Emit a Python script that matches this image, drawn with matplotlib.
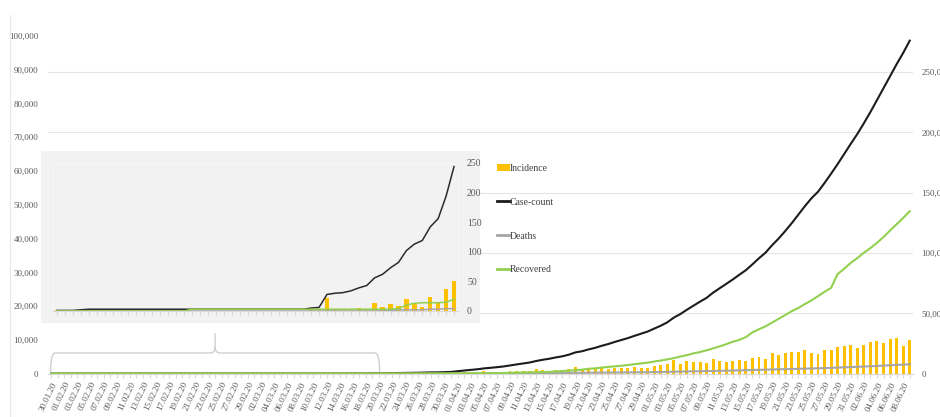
"""
Case-count, incidence, deaths and recovered 30.01.20 - 09.06.20, with an inset zoom on the first 51 days
"""
import numpy as np
import pandas as pd
import matplotlib
matplotlib.use("Agg")
import matplotlib.pyplot as plt
import matplotlib.transforms as mtransforms
from matplotlib.lines import Line2D
from matplotlib.patches import Patch, PathPatch
from matplotlib.path import Path
from matplotlib.ticker import FuncFormatter

# x categories: one per day
dates = pd.date_range("2020-01-30", "2020-06-09", freq="D")
date_labels = [d.strftime("%d.%m.%y") for d in dates]
INSET_DAYS = 51  # 30.01.20 - 20.03.20

# daily new cases (left axis)
incidence = (
    [1, 0]
    + [0, 1, 1, 0, 0, 0, 0, 0, 0, 0, 0, 0, 0, 0, 0, 0, 0, 0, 0, 0, 0, 0, 0, 0, 0, 0, 0, 0, 0]
    + [0, 2, 1, 22, 2, 1, 3, 5, 4, 13, 6, 11, 9, 20, 11, 6, 23, 14, 38, 50,
       86, 66, 103, 37, 121, 70, 160, 100, 37, 227, 146]
    + [601, 545, 516, 529, 701, 489, 533, 605, 809, 873, 848, 759, 1248, 1034, 835,
       1108, 922, 1370, 1893, 924, 1541, 1290, 1707, 1453, 1753, 1607, 1561, 1873, 1738, 1801]
    + [2394, 2442, 2806, 3932, 2963, 3587, 3364, 3344, 3113, 4353, 3607, 3524, 3763, 3942,
       3600, 4600, 4800, 4300, 6000, 5400, 6000, 6300, 6500, 7000, 6200, 5700, 7000, 7000,
       7900, 8300, 8600]
    + [7500, 8600, 9400, 9700, 9200, 10300, 10600, 8300, 10000]
)

# cumulative values (right axis)
case_count = (
    [1, 1]
    + [1, 2, 3, 3, 3, 3, 3, 3, 3, 3, 3, 3, 3, 3, 3, 3, 3, 3, 3, 3, 3, 3, 3, 3, 3, 3, 3, 3, 3]
    + [3, 5, 6, 28, 30, 31, 34, 39, 43, 56, 62, 73, 82, 102, 113, 119, 142, 156, 194, 244,
       330, 396, 499, 536, 657, 727, 887, 987, 1024, 1251, 1397]
    + [1998, 2543, 3059, 3588, 4289, 4778, 5311, 5916, 6725, 7598, 8446, 9205, 10453, 11487,
       12322, 13430, 14352, 15722, 17615, 18539, 20080, 21370, 23077, 24530, 26283, 27890,
       29451, 31324, 33062, 34863]
    + [37257, 39699, 42505, 46437, 49400, 52987, 56351, 59695, 62808, 67161, 70768, 74292,
       78055, 81997, 85784, 90648, 95698, 100328, 106475, 112028, 118226, 124794, 131868,
       138845, 145380, 150793, 158086, 165799, 173763, 182143, 190535]
    + [198706, 207615, 216919, 226770, 236657, 246628, 256611, 265928, 276146]
)

deaths = (
    [0, 0]
    + [0] * 29
    + [0, 0, 0, 0, 0, 0, 0, 0, 0, 0, 0, 1, 2, 2, 2, 2, 3, 3, 4, 4,
       4, 7, 9, 10, 12, 20, 20, 24, 27, 32, 35]
    + [58, 72, 80, 96, 111, 136, 150, 178, 226, 246, 288, 331, 358, 393, 405, 448, 486, 521,
       559, 592, 645, 681, 721, 780, 825, 881, 939, 1008, 1079, 1154]
    + [1223, 1323, 1391, 1566, 1693, 1785, 1889, 1985, 2101, 2212, 2294, 2415, 2551, 2649,
       2753, 2871, 3025, 3156, 3302, 3434, 3584, 3726, 3868, 4024, 4172, 4344, 4534, 4711,
       4980, 5185, 5408]
    + [5608, 5829, 6088, 6363, 6649, 6946, 7207, 7473, 7745]
)

recovered = (
    [0, 0]
    + [0, 0, 0, 0, 0, 0, 0, 0, 0, 0, 0, 0, 0, 0, 0, 3, 3, 3, 3, 3, 3, 3, 3, 3, 3, 3, 3, 3, 3]
    + [3, 3, 3, 3, 3, 3, 3, 3, 3, 3, 3, 3, 4, 10, 13, 14, 14, 14, 15, 20,
       23, 27, 40, 43, 43, 45, 73, 84, 95, 102, 123]
    + [148, 191, 192, 229, 328, 375, 421, 506, 620, 774, 969, 1080, 1181, 1359, 1432, 1768,
       2041, 2463, 2854, 3273, 3975, 4370, 5012, 5498, 5939, 6523, 7137, 7747, 8437, 9068]
    + [10007, 10819, 11775, 12847, 14142, 15331, 16776, 17887, 19301, 20969, 22549, 24420,
       26400, 27969, 30258, 34224, 36795, 39233, 42309, 45422, 48553, 51824, 54385, 57692,
       60706, 64277, 67749, 71105, 82627, 86936, 91852]
    + [95754, 100285, 104071, 108450, 113233, 118695, 123848, 129095, 134670]
)

YELLOW = "#FFC000"
BLACK = "#1c1c1c"
GREY = "#a6a6a6"
GREEN = "#92D050"
LABEL = "#595959"
AXIS = "#d9d9d9"
FONT = "Liberation Serif"

plt.rcParams["font.family"] = [FONT, "DejaVu Serif"]

W, H = 940, 417
fig = plt.figure(figsize=(W / 100, H / 100), dpi=100)


def box(left, top, right, bottom):
    # pixel box -> figure fraction rect
    return [left / W, 1 - bottom / H, (right - left) / W, (bottom - top) / H]


thousands = FuncFormatter(lambda v, p: f"{v:,.0f}")

# ---- main chart ----
ax = fig.add_axes(box(48, 36, 913, 373.6))
ax2 = ax.twinx()
x = np.arange(len(dates))

ax.bar(x, incidence, width=0.45, color=YELLOW, zorder=2)
ax.set_xlim(-0.5, len(x) - 0.5)
ax.set_ylim(0, 100000)
ax.set_yticks(range(0, 100001, 10000))
ax.yaxis.set_major_formatter(thousands)
ax.tick_params(axis="y", length=0, pad=7, labelsize=6.5, labelcolor=LABEL)
ax.set_xticks(x)
ax.set_xticklabels([lbl if i % 2 == 0 else "" for i, lbl in enumerate(date_labels)],
                   rotation=65, ha="right", rotation_mode="anchor")
ax.tick_params(axis="x", length=3, color=AXIS, pad=2, labelsize=6.5, labelcolor=LABEL)
for s in ["top", "left", "right"]:
    ax.spines[s].set_visible(False)
ax.spines["bottom"].set_color(AXIS)

ax2.set_ylim(0, 280000)
ax2.set_yticks(range(0, 250001, 50000))
ax2.yaxis.set_major_formatter(thousands)
ax2.tick_params(axis="y", length=0, pad=6, labelsize=6.5, labelcolor=LABEL)
ax2.grid(axis="y", color="#e6e6e6", lw=0.8)
ax2.set_axisbelow(True)
for s in ax2.spines.values():
    s.set_visible(False)
ax2.plot(x, case_count, color=BLACK, lw=1.5)
ax2.plot(x, deaths, color=GREY, lw=1.5)
ax2.plot(x, recovered, color=GREEN, lw=1.5)

# brace under the zoomed period
trans = mtransforms.blended_transform_factory(ax.transData, ax.transAxes)
x0, x1, xm = -0.1, INSET_DAYS - 0.9, (INSET_DAYS - 1) / 2
yb, yl, yt = 0.005, 0.061, 0.12
verts = [(x0, yb), (x0, yl), (x0 + 0.7, yl),
         (xm - 0.7, yl), (xm, yl), (xm, yl + 0.02), (xm, yt),
         (xm, yl + 0.02), (xm, yl), (xm + 0.7, yl),
         (x1 - 0.7, yl), (x1, yl), (x1, yb)]
codes = [Path.MOVETO, Path.CURVE3, Path.CURVE3,
         Path.LINETO, Path.CURVE3, Path.CURVE3, Path.LINETO,
         Path.MOVETO, Path.CURVE3, Path.CURVE3,
         Path.LINETO, Path.CURVE3, Path.CURVE3]
ax.add_patch(PathPatch(Path(verts, codes), transform=trans, fill=False,
                       edgecolor="#d0d0d0", lw=1.0, clip_on=False, zorder=3))

# faint chart-area frame line on the left
fig.add_artist(Line2D([10 / W, 10 / W], [0, 1 - 15 / H], color="#e8e8e8", lw=0.8))

# ---- inset ----
panel = fig.add_axes(box(41, 151, 480, 323))
panel.set_facecolor("#f2f2f2")
panel.set_xticks([])
panel.set_yticks([])
for s in panel.spines.values():
    s.set_visible(False)

axi = fig.add_axes(box(53, 163, 458, 311))
axi.set_facecolor("#f2f2f2")
xi = np.arange(INSET_DAYS)
axi.bar(xi, incidence[:INSET_DAYS], width=0.55, color=YELLOW, zorder=2)
axi.plot(xi, case_count[:INSET_DAYS], color="#2b2b2b", lw=1.1, zorder=3)
axi.plot(xi, deaths[:INSET_DAYS], color=GREY, lw=1.1, zorder=3)
axi.plot(xi, recovered[:INSET_DAYS], color=GREEN, lw=1.1, zorder=3)
axi.set_xlim(-0.5, INSET_DAYS - 0.5)
axi.set_ylim(0, 250)
axi.set_yticks(range(0, 251, 50))
axi.yaxis.tick_right()
axi.tick_params(axis="y", length=0, pad=6.5, labelsize=7, labelcolor=LABEL)
axi.set_xticks(xi)
axi.set_xticklabels([])
axi.tick_params(axis="x", length=3, color=AXIS)
for s in ["top", "left", "right"]:
    axi.spines[s].set_color("#f9f9f9")
    axi.spines[s].set_linewidth(0.6)
axi.spines["bottom"].set_color(AXIS)

# legend
handles = [Patch(facecolor=YELLOW, edgecolor="none"),
           Line2D([], [], color=BLACK, lw=2),
           Line2D([], [], color=GREY, lw=2),
           Line2D([], [], color=GREEN, lw=2)]
labels = ["Incidence", "Case-count", "Deaths", "Recovered"]
leg = fig.legend(handles, labels, loc="upper left", bbox_to_anchor=(497 / W, 1 - 164 / H),
                 frameon=False, fontsize=7, labelspacing=2.55, handlelength=1.3,
                 handletextpad=0.05, borderpad=0, borderaxespad=0)
for t in leg.get_texts():
    t.set_color("#404040")

fig.savefig("out.png", dpi=100)
